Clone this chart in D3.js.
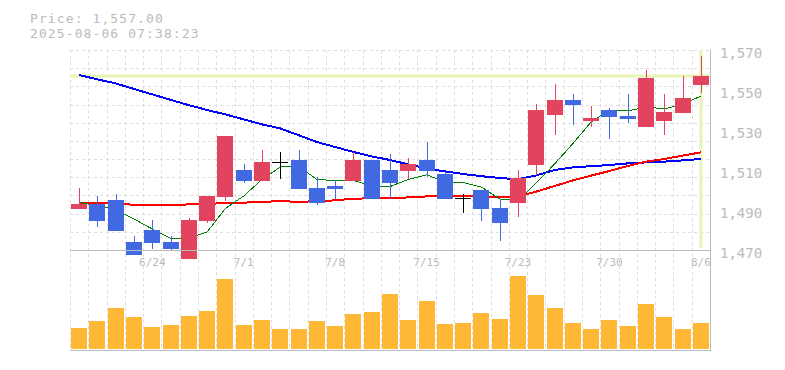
<!DOCTYPE html>
<html>
<head>
<meta charset="utf-8">
<script src="https://cdn.jsdelivr.net/npm/d3@7"></script>
<style>
  html, body { margin: 0; padding: 0; background: #fff; }
  svg { display: block; }
  text { font-family: "DejaVu Sans Mono", "Liberation Mono", monospace; fill: #bbbbbb; }
</style>
</head>
<body>
<svg id="chart" width="785" height="370"></svg>
<script>
// ---- data ----
const dates = ["6/18","6/19","6/20","6/23","6/24","6/25","6/26","6/27","6/30","7/1","7/2","7/3","7/4","7/7","7/8","7/9","7/10","7/11","7/14","7/15","7/16","7/17","7/18","7/22","7/23","7/24","7/25","7/28","7/29","7/30","7/31","8/1","8/4","8/5","8/6"];
const openP  = [1490.5,1493,1495,1474,1480,1474,1465.5,1484.7,1496.7,1510,1504.5,1513.7,1515,1501,1502,1504.5,1515,1510,1509.7,1515,1508,1496,1500,1491,1493.7,1512.5,1537.5,1545,1534.5,1540,1537,1531.5,1534.5,1538.5,1552.5];
const highP  = [1501,1497.2,1498,1477,1485,1477,1486,1497,1527,1513,1520,1519,1520,1506.7,1505,1519,1515,1518,1516,1524,1509,1498,1500,1495.5,1510,1543,1553,1548,1542,1541,1548,1560,1548,1557,1567];
const lowP   = [1490.5,1481.7,1479.7,1467.7,1470.7,1469.7,1465.5,1483.7,1494.7,1503.5,1504.5,1505.7,1500.5,1492.7,1495.5,1504.5,1495.5,1495.5,1505.7,1506.7,1495.5,1488.7,1484.7,1474.7,1486.7,1507.5,1527.5,1532.5,1531.5,1525.5,1533.5,1531.5,1527.5,1538.5,1548.6];
const closeP = [1493,1484.7,1479.7,1467.7,1473.7,1470.7,1485,1497,1527,1504.5,1514,1513.7,1500.5,1493.7,1500.5,1515,1495.5,1503.7,1513.2,1509.7,1495.5,1496,1490.7,1483.7,1506,1540,1545,1542.5,1536,1536.5,1535.5,1556,1539,1546,1557];
const volume = [21,28,41,32,22,24,33,38,70,24,29,20,20,28,23,35,37,55,29,48,25,26,36,30,73,54,41,26,20,29,23,45,32,20,26];
const maShort = [1493.7,1492.3,1490,1485.5,1480.5,1475.8,1476,1479,1490.8,1497,1505.3,1511.5,1511.8,1505.3,1504.7,1504.8,1502,1501.7,1505.3,1507.6,1504,1503.7,1501.5,1495.5,1494.6,1503.5,1513,1523.2,1534,1540,1539.5,1541.5,1540.6,1542.8,1547];
const maMid   = [1493.7,1493.7,1493.7,1492.5,1492.5,1492.5,1492.8,1492.8,1493.7,1493.7,1494,1494.5,1494,1494.5,1494.8,1495.7,1495.8,1495.8,1496.3,1496.8,1496.8,1496.8,1496.8,1496.3,1496.7,1499.2,1502,1504.8,1507.2,1509.5,1512,1514.2,1515.5,1517.2,1518.8];
const maLong  = [1557.5,1555.3,1553.3,1550.5,1547.8,1545.1,1542.4,1540,1537.8,1535.3,1532.8,1530.8,1527.4,1524,1521.5,1519,1516.8,1515,1512.8,1510.8,1509.3,1508,1506.9,1506,1505.4,1507.3,1510,1511.3,1511.9,1512.5,1513.3,1513.8,1514.2,1514.8,1515.5];
const priceTicks = [1470,1490,1510,1530,1550,1570];
const dateTicks = ["6/24","7/1","7/8","7/15","7/23","7/30","8/6"];
const currentPrice = 1557;
const titleLines = ["Price: 1,557.00", "2025-08-06 07:38:23"];

// ---- layout ----
const L = 70, R = 710, PT = 50, PB = 250, VT = 249, VB = 349;
const svg = d3.select("#chart");

const x = d3.scaleBand().domain(dates).range([L, R]).padding(0);
const bw = x.bandwidth();
const cx = d => x(d) + bw / 2;
const y = d3.scaleLinear().domain([1470, 1570]).range([PB, PT]);
const yv = d3.scaleLinear().domain([0, 100]).range([VB, VT]);

// ---- grid ----
const grid = svg.append("g").attr("stroke", "#dddddd").attr("stroke-dasharray", "3,3").attr("shape-rendering", "crispEdges");
const hDiv = 11;
const hVals = d3.range(hDiv).map(k => 1570 - k * (100 / hDiv));
grid.selectAll("line.h").data(hVals).join("line")
  .attr("x1", L).attr("x2", R).attr("y1", d => Math.round(y(d)) + 0.5).attr("y2", d => Math.round(y(d)) + 0.5);
grid.selectAll("line.v").data(dates).join("line")
  .attr("x1", d => Math.round(x(d)) + 0.5).attr("x2", d => Math.round(x(d)) + 0.5)
  .attr("y1", PT).attr("y2", 350);

// ---- current price markers ----
const last = dates[dates.length - 1];
svg.append("line").attr("x1", L).attr("x2", R).attr("y1", y(currentPrice)).attr("y2", y(currentPrice))
  .attr("stroke", "#e6f5b3").attr("stroke-width", 3);
svg.append("line").attr("x1", cx(last)).attr("x2", cx(last)).attr("y1", PT).attr("y2", PB - 2)
  .attr("stroke", "#e6f5b3").attr("stroke-width", 3);

// ---- volume bars ----
const bodyW = 16;
svg.append("g").selectAll("rect").data(dates).join("rect")
  .attr("x", d => cx(d) - bodyW / 2).attr("width", bodyW)
  .attr("y", (d, i) => yv(volume[i])).attr("height", (d, i) => yv(0) - yv(volume[i]))
  .attr("fill", "#ffb835").attr("shape-rendering", "crispEdges");

// ---- moving averages ----
function maLine(arr, color, w) {
  const line = d3.line().x((d, i) => cx(dates[i])).y(d => y(d));
  svg.append("path").datum(arr).attr("d", line).attr("fill", "none")
    .attr("stroke", color).attr("stroke-width", w).attr("shape-rendering", "crispEdges");
}
maLine(maLong, "#0000ff", 2);
maLine(maMid, "#ff0000", 2);
maLine(maShort, "#008000", 1);

// ---- candles ----
const upC = "#e2435f", downC = "#4169e1", flatC = "#000000";
const colorOf = i => closeP[i] > openP[i] ? upC : (closeP[i] < openP[i] ? downC : flatC);
const cg = svg.append("g").attr("shape-rendering", "crispEdges");
dates.forEach((d, i) => {
  const c = colorOf(i);
  const xc = Math.round(cx(d)) + 0.5;
  cg.append("line").attr("x1", xc).attr("x2", xc).attr("y1", y(highP[i])).attr("y2", y(lowP[i]))
    .attr("stroke", c).attr("stroke-width", 1);
  if (openP[i] === closeP[i]) {
    cg.append("line").attr("x1", cx(d) - bodyW / 2).attr("x2", cx(d) + bodyW / 2)
      .attr("y1", y(openP[i])).attr("y2", y(openP[i])).attr("stroke", c).attr("stroke-width", 1);
  } else {
    const top = y(Math.max(openP[i], closeP[i])), bot = y(Math.min(openP[i], closeP[i]));
    cg.append("rect").attr("x", cx(d) - bodyW / 2).attr("width", bodyW)
      .attr("y", top).attr("height", bot - top).attr("fill", c);
  }
});

// ---- borders ----
const bord = svg.append("g").attr("stroke", "#bbbbbb").attr("shape-rendering", "crispEdges");
bord.append("line").attr("x1", L).attr("x2", R + 1).attr("y1", PB + 0.5).attr("y2", PB + 0.5);
bord.append("line").attr("x1", L).attr("x2", R + 1).attr("y1", 350.5).attr("y2", 350.5);
bord.append("line").attr("x1", R + 0.5).attr("x2", R + 0.5).attr("y1", PT).attr("y2", 351);

// ---- axis labels ----
const fmt = d3.format(",");
svg.append("g").selectAll("text").data(priceTicks).join("text")
  .attr("x", 720).attr("y", d => y(d) + 7.7).attr("font-size", 14).text(d => fmt(d));
svg.append("g").selectAll("text").data(dateTicks).join("text")
  .attr("x", d => cx(d)).attr("y", 266).attr("text-anchor", "middle").attr("font-size", 11).text(d => d);

// ---- title ----
svg.append("g").selectAll("text").data(titleLines).join("text")
  .attr("x", 30).attr("y", (d, i) => 22.5 + i * 15.5).attr("font-size", 13)
  .attr("letter-spacing", 1.1).text(d => d);
</script>
</body>
</html>
